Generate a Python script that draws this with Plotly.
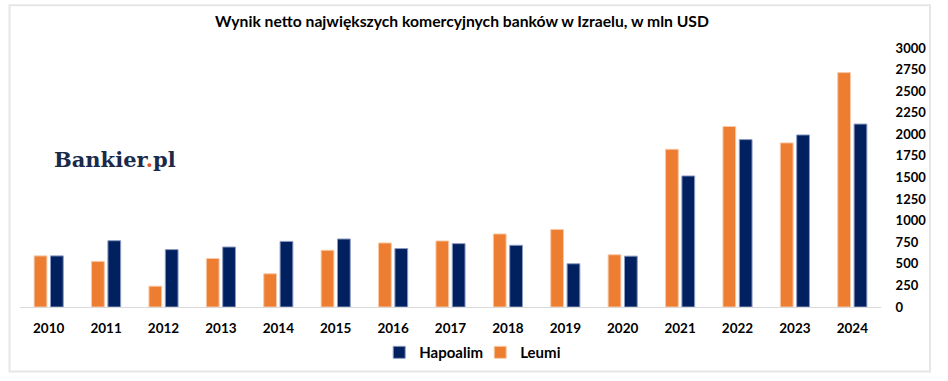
import plotly.graph_objects as go

years = ["2010", "2011", "2012", "2013", "2014", "2015", "2016", "2017",
         "2018", "2019", "2020", "2021", "2022", "2023", "2024"]
leumi = [592, 528, 241, 562, 385, 657, 742, 765, 846, 898, 605, 1827, 2091, 1901, 2715]
hapoalim = [592, 768, 665, 695, 760, 788, 677, 734, 715, 501, 589, 1518, 1939, 1993, 2119]
y_ticks = list(range(0, 3001, 250))

ORANGE = "#ED7D31"
NAVY = "#002060"
FONT = "Lato"

fig = go.Figure()
fig.add_trace(go.Bar(x=years, y=leumi, name="<b>Leumi</b>",
                     marker=dict(color=ORANGE, line=dict(color="#F8C9A8", width=1)), legendrank=2))
fig.add_trace(go.Bar(x=years, y=hapoalim, name="<b>Hapoalim</b>",
                     marker=dict(color=NAVY, line=dict(color="#8C9BC0", width=1)), legendrank=1))

fig.update_layout(
    width=948, height=381,
    margin=dict(l=20, r=67, t=48, b=72),
    paper_bgcolor="white", plot_bgcolor="white",
    barmode="group", bargap=0.43, bargroupgap=0.22,
    title=dict(text="<b>Wynik netto największych komercyjnych banków w Izraelu, w mln USD</b>",
               x=462/948, xanchor="center", xref="container",
               y=1-22/381, yanchor="middle", yref="container",
               font=dict(family=FONT, size=15.7, color="#000000")),
    font=dict(family=FONT, color="#000000"),
    showlegend=True,
    legend=dict(orientation="h", x=0.5345, xanchor="center", y=-0.176, yanchor="middle",
                font=dict(family=FONT, size=15, color="#000000"),
                itemwidth=30, traceorder="normal", entrywidth=56, entrywidthmode="pixels"),
    xaxis=dict(type="category", showline=True, linecolor="#D9D9D9", linewidth=1,
               showgrid=False, zeroline=False, ticks="outside", ticklen=9, tickcolor="rgba(0,0,0,0)",
               tickfont=dict(family=FONT, size=13.5, color="#000000", weight="bold")),
    yaxis=dict(side="right", range=[0, 3000], tickvals=y_ticks, showgrid=False, zeroline=False,
               showline=False, ticks="outside", ticklen=11, tickcolor="rgba(0,0,0,0)",
               tickfont=dict(family=FONT, size=13, color="#000000", weight="bold")),
    shapes=[dict(type="rect", xref="paper", yref="paper",
                 x0=(9.5-20)/861, x1=(930-20)/861, y0=(309-374)/261, y1=(309-5)/261,
                 line=dict(color="#E6E6E6", width=2), fillcolor="rgba(0,0,0,0)", layer="below")],
    annotations=[dict(text="<b>Bankier<span style='color:#E8542A'>.</span>pl</b>",
                      xref="paper", yref="paper", x=(115-20)/861, y=(309-160)/261,
                      xanchor="center", yanchor="middle", showarrow=False,
                      font=dict(family="DejaVu Serif", size=21, color="#1B2A4A"))]
)

fig.write_html("out.html")
